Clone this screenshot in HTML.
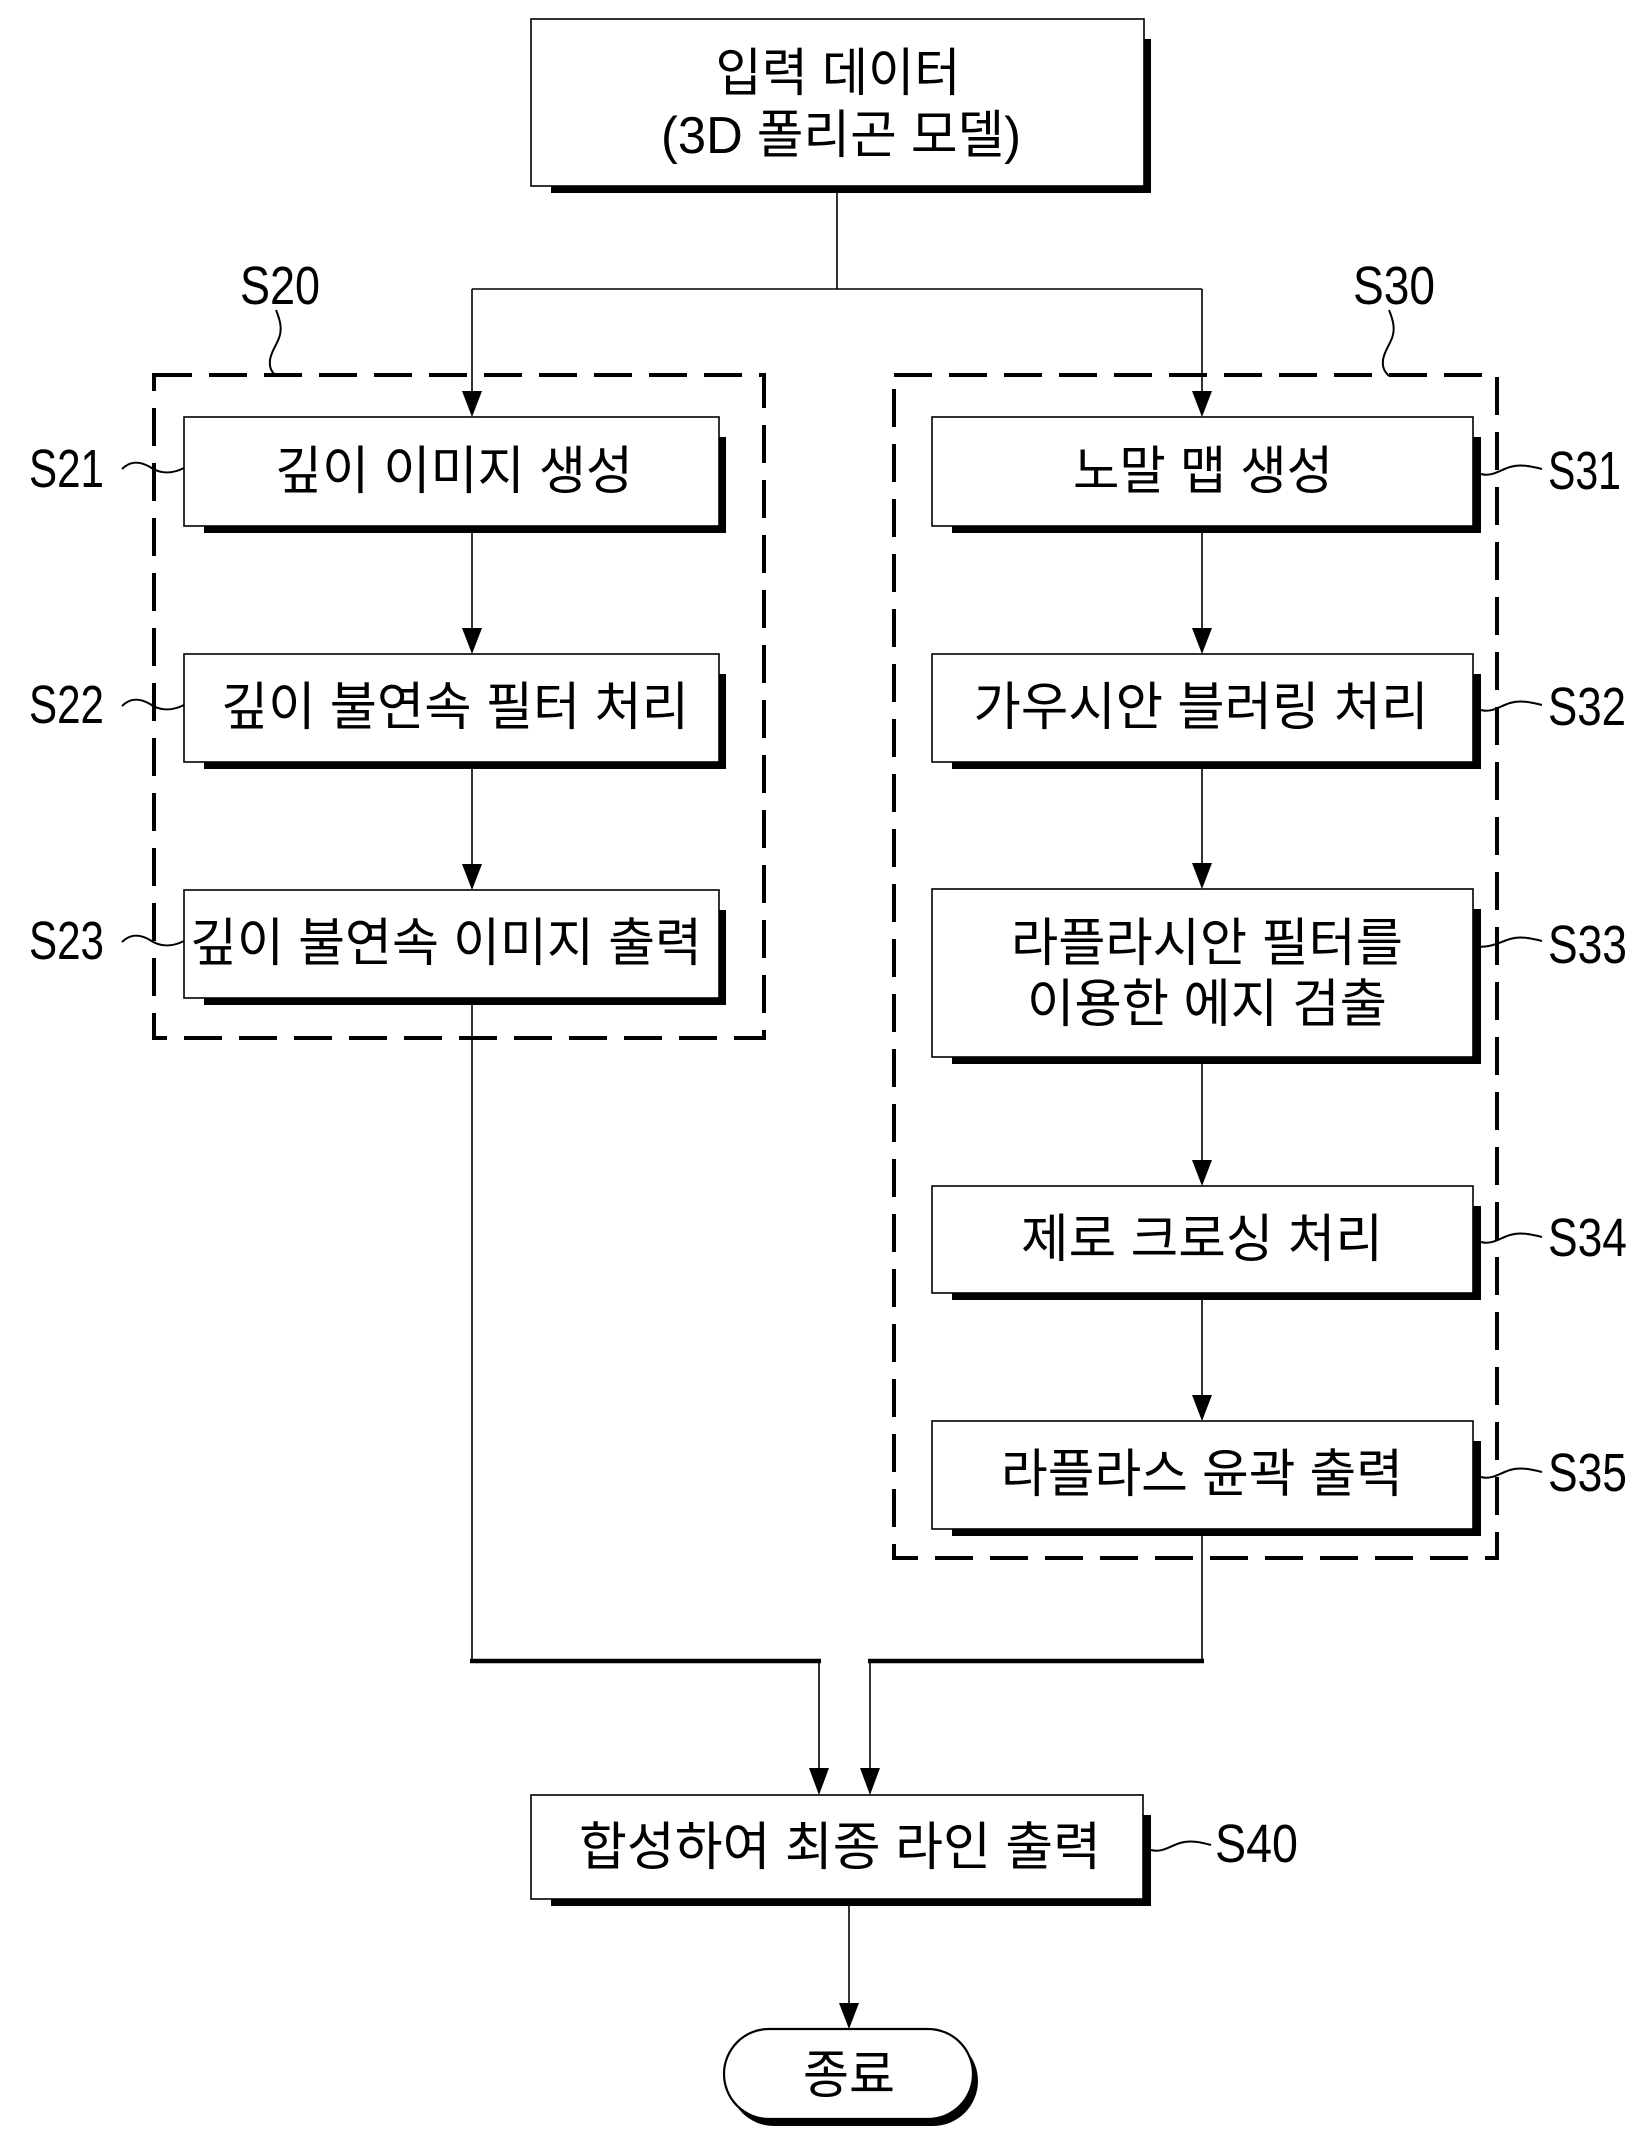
<!DOCTYPE html>
<html>
<head>
<meta charset="utf-8">
<style>
  html, body { margin:0; padding:0; background:#fff; }
  svg { display:block; }
  .k { font-family: "Liberation Sans", "Noto Sans CJK KR", sans-serif; font-size:52px; fill:#000; }
  .l { font-family: "Liberation Sans", sans-serif; font-size:54px; fill:#000; }
</style>
</head>
<body>
<svg width="1642" height="2150" viewBox="0 0 1642 2150" xmlns="http://www.w3.org/2000/svg">
  <rect x="0" y="0" width="1642" height="2150" fill="#fff"/>

  <!-- Dashed group rectangles -->
  <rect x="154" y="375" width="610" height="663" fill="none" stroke="#000" stroke-width="4" stroke-dasharray="38 17"/>
  <rect x="894" y="375" width="603" height="1183" fill="none" stroke="#000" stroke-width="4" stroke-dasharray="38 17"/>

  <!-- Connectors (thin) -->
  <g stroke="#000" stroke-width="1.6" fill="none">
    <line x1="837" y1="186" x2="837" y2="289"/>
    <line x1="472" y1="289" x2="1202" y2="289"/>
    <line x1="472" y1="289" x2="472" y2="395"/>
    <line x1="1202" y1="289" x2="1202" y2="395"/>
    <line x1="472" y1="526" x2="472" y2="632"/>
    <line x1="472" y1="762" x2="472" y2="868"/>
    <line x1="472" y1="998" x2="472" y2="1661"/>
    <line x1="1202" y1="526" x2="1202" y2="632"/>
    <line x1="1202" y1="762" x2="1202" y2="867"/>
    <line x1="1202" y1="1057" x2="1202" y2="1164"/>
    <line x1="1202" y1="1293" x2="1202" y2="1399"/>
    <line x1="1202" y1="1529" x2="1202" y2="1661"/>
    <line x1="819" y1="1661" x2="819" y2="1773"/>
    <line x1="870" y1="1661" x2="870" y2="1773"/>
    <line x1="849" y1="1899" x2="849" y2="2007"/>
  </g>
  <!-- Merge thick horizontal -->
  <g stroke="#000" stroke-width="4.5" fill="none">
    <line x1="470" y1="1661" x2="821" y2="1661"/>
    <line x1="868" y1="1661" x2="1204" y2="1661"/>
  </g>

  <!-- Arrowheads -->
  <g fill="#000">
    <polygon points="472,417 462,391 482,391"/>
    <polygon points="1202,417 1192,391 1212,391"/>
    <polygon points="472,654 462,628 482,628"/>
    <polygon points="472,890 462,864 482,864"/>
    <polygon points="1202,654 1192,628 1212,628"/>
    <polygon points="1202,889 1192,863 1212,863"/>
    <polygon points="1202,1186 1192,1160 1212,1160"/>
    <polygon points="1202,1421 1192,1395 1212,1395"/>
    <polygon points="819,1795 809,1768 829,1768"/>
    <polygon points="870,1795 860,1768 880,1768"/>
    <polygon points="849,2029 839,2003 859,2003"/>
  </g>

  <!-- Boxes: shadow then box -->
  <g>
    <!-- top -->
    <rect x="551" y="39" width="600" height="154" fill="#000"/>
    <rect x="531" y="19" width="613" height="167" fill="#fff" stroke="#000" stroke-width="1.6"/>
    <!-- S21 -->
    <rect x="204" y="437" width="522" height="96" fill="#000"/>
    <rect x="184" y="417" width="535" height="109" fill="#fff" stroke="#000" stroke-width="1.6"/>
    <!-- S22 -->
    <rect x="204" y="674" width="522" height="95" fill="#000"/>
    <rect x="184" y="654" width="535" height="108" fill="#fff" stroke="#000" stroke-width="1.6"/>
    <!-- S23 -->
    <rect x="204" y="910" width="522" height="95" fill="#000"/>
    <rect x="184" y="890" width="535" height="108" fill="#fff" stroke="#000" stroke-width="1.6"/>
    <!-- S31 -->
    <rect x="952" y="437" width="529" height="96" fill="#000"/>
    <rect x="932" y="417" width="541" height="109" fill="#fff" stroke="#000" stroke-width="1.6"/>
    <!-- S32 -->
    <rect x="952" y="674" width="529" height="95" fill="#000"/>
    <rect x="932" y="654" width="541" height="108" fill="#fff" stroke="#000" stroke-width="1.6"/>
    <!-- S33 -->
    <rect x="952" y="909" width="529" height="155" fill="#000"/>
    <rect x="932" y="889" width="541" height="168" fill="#fff" stroke="#000" stroke-width="1.6"/>
    <!-- S34 -->
    <rect x="952" y="1206" width="529" height="94" fill="#000"/>
    <rect x="932" y="1186" width="541" height="107" fill="#fff" stroke="#000" stroke-width="1.6"/>
    <!-- S35 -->
    <rect x="952" y="1441" width="529" height="95" fill="#000"/>
    <rect x="932" y="1421" width="541" height="108" fill="#fff" stroke="#000" stroke-width="1.6"/>
    <!-- S40 -->
    <rect x="551" y="1815" width="600" height="91" fill="#000"/>
    <rect x="531" y="1795" width="612" height="104" fill="#fff" stroke="#000" stroke-width="1.6"/>
    <!-- End terminal -->
    <rect x="729" y="2036" width="249" height="90" rx="45" ry="45" fill="#000"/>
    <rect x="724" y="2029" width="249" height="90" rx="45" ry="45" fill="#fff" stroke="#000" stroke-width="2.2"/>
  </g>

  <!-- Squiggle leaders -->
  <g stroke="#000" stroke-width="2" fill="none">
    <path d="M276,310 C281,322 282,330 279,338 C276,346 271,352 270,360 C269,368 272,372 276,376"/>
    <path d="M1389,310 C1394,322 1395,330 1392,338 C1389,346 1384,352 1383,360 C1382,368 1385,372 1389,376"/>
    <path d="M122,469 C130,461 140,461 150,467 C160,474 172,474 184,468"/>
    <path d="M122,706 C130,698 140,698 150,704 C160,711 172,711 184,705"/>
    <path d="M122,942 C130,934 140,934 150,940 C160,947 172,947 184,941"/>
    <path d="M1481,474 C1492,477 1500,470 1510,467 C1520,464 1530,466 1542,469"/>
    <path d="M1481,710 C1492,713 1500,706 1510,703 C1520,700 1530,702 1542,705"/>
    <path d="M1475,946 C1488,949 1500,942 1510,939 C1520,936 1530,938 1542,941"/>
    <path d="M1481,1242 C1492,1245 1500,1238 1510,1235 C1520,1232 1530,1234 1542,1237"/>
    <path d="M1481,1477 C1492,1480 1500,1473 1510,1470 C1520,1467 1530,1469 1542,1472"/>
    <path d="M1151,1850 C1162,1853 1170,1846 1180,1843 C1190,1840 1200,1842 1211,1845"/>
  </g>

  <!-- Box texts -->
  <g class="k" text-anchor="middle">
    <text x="838" y="91" textLength="245" lengthAdjust="spacingAndGlyphs">입력 데이터</text>
    <text x="841" y="153" textLength="360" lengthAdjust="spacingAndGlyphs">(3D 폴리곤 모델)</text>
    <text x="454" y="489" textLength="358" lengthAdjust="spacingAndGlyphs">깊이 이미지 생성</text>
    <text x="455" y="725" textLength="468" lengthAdjust="spacingAndGlyphs">깊이 불연속 필터 처리</text>
    <text x="446" y="961" textLength="512" lengthAdjust="spacingAndGlyphs">깊이 불연속 이미지 출력</text>
    <text x="1203" y="489" textLength="260" lengthAdjust="spacingAndGlyphs">노말 맵 생성</text>
    <text x="1201" y="725" textLength="455" lengthAdjust="spacingAndGlyphs">가우시안 블러링 처리</text>
    <text x="1207" y="961" textLength="392" lengthAdjust="spacingAndGlyphs">라플라시안 필터를</text>
    <text x="1207" y="1022" textLength="360" lengthAdjust="spacingAndGlyphs">이용한 에지 검출</text>
    <text x="1202" y="1257" textLength="362" lengthAdjust="spacingAndGlyphs">제로 크로싱 처리</text>
    <text x="1202" y="1492" textLength="402" lengthAdjust="spacingAndGlyphs">라플라스 윤곽 출력</text>
    <text x="840" y="1865" textLength="522" lengthAdjust="spacingAndGlyphs">합성하여 최종 라인 출력</text>
    <text x="849" y="2093" textLength="92" lengthAdjust="spacingAndGlyphs">종료</text>
  </g>

  <!-- Step labels -->
  <g class="l">
    <text x="240" y="304" textLength="80" lengthAdjust="spacingAndGlyphs">S20</text>
    <text x="1353" y="304" textLength="82" lengthAdjust="spacingAndGlyphs">S30</text>
    <text x="29" y="487" textLength="75" lengthAdjust="spacingAndGlyphs">S21</text>
    <text x="29" y="723" textLength="75" lengthAdjust="spacingAndGlyphs">S22</text>
    <text x="29" y="959" textLength="75" lengthAdjust="spacingAndGlyphs">S23</text>
    <text x="1548" y="489" textLength="73" lengthAdjust="spacingAndGlyphs">S31</text>
    <text x="1548" y="725" textLength="78" lengthAdjust="spacingAndGlyphs">S32</text>
    <text x="1548" y="963" textLength="79" lengthAdjust="spacingAndGlyphs">S33</text>
    <text x="1548" y="1256" textLength="79" lengthAdjust="spacingAndGlyphs">S34</text>
    <text x="1548" y="1491" textLength="79" lengthAdjust="spacingAndGlyphs">S35</text>
    <text x="1215" y="1862" textLength="83" lengthAdjust="spacingAndGlyphs">S40</text>
  </g>
</svg>
</body>
</html>
